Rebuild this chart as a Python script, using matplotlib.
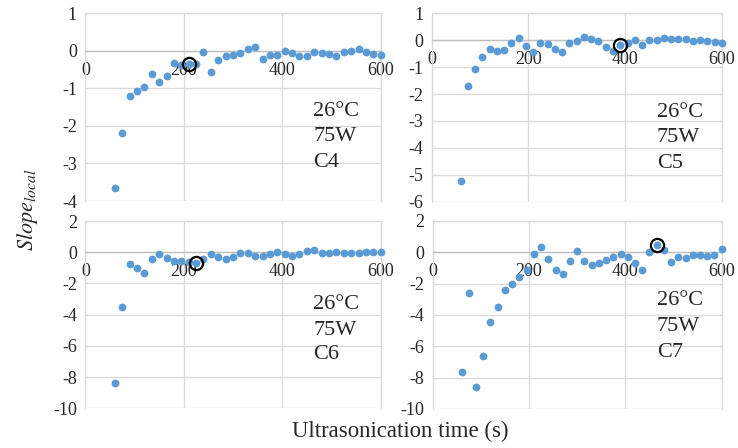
import numpy as np
from matplotlib import pyplot as plt

plt.rcParams['font.family'] = ['Liberation Serif', 'DejaVu Serif']
plt.rcParams['mathtext.fontset'] = 'stix'

# ultrasonication time, s (one point every 15 s)
time = list(range(60, 601, 15))

slope_c4 = [-3.66, -2.19, -1.21, -1.07, -0.96, -0.62, -0.82, -0.67, -0.33, -0.38,
            -0.35, -0.35, -0.04, -0.57, -0.25, -0.14, -0.10, -0.06, 0.04, 0.11,
            -0.22, -0.11, -0.10, 0.0, -0.05, -0.15, -0.15, -0.04, -0.07, -0.08,
            -0.15, -0.04, 0.0, 0.05, -0.02, -0.09, -0.10]
slope_c5 = [-5.23, -1.70, -1.07, -0.64, -0.33, -0.40, -0.38, -0.09, 0.09, -0.22,
            -0.45, -0.09, -0.14, -0.33, -0.45, -0.12, -0.02, 0.11, 0.06, -0.04,
            -0.25, -0.40, -0.17, -0.09, 0.02, -0.17, 0.0, -0.01, 0.09, 0.04,
            0.06, 0.04, -0.04, 0.02, -0.02, -0.07, -0.09]
slope_c6 = [-8.36, -3.49, -0.77, -0.98, -1.30, -0.43, -0.09, -0.38, -0.55, -0.55,
            -0.60, -0.70, -0.43, -0.11, -0.32, -0.45, -0.32, -0.04, -0.04, -0.21,
            -0.21, -0.11, 0.02, -0.09, -0.26, -0.11, 0.09, 0.13, -0.04, -0.04,
            0.0, -0.06, -0.04, -0.06, 0.0, 0.0, 0.0]
slope_c7 = [-7.65, -2.61, -8.58, -6.59, -4.47, -3.52, -2.39, -2.01, -1.59, -1.10,
            -0.11, 0.36, -0.40, -1.14, -1.36, -0.53, 0.08, -0.55, -0.81, -0.68,
            -0.49, -0.32, -0.08, -0.28, -0.70, -1.10, 0.0, 0.49, 0.17, -0.59,
            -0.32, -0.36, -0.17, -0.17, -0.21, -0.15, 0.21]

# circled points (time, slope)
marked = [(210, -0.35), (390, -0.17), (225, -0.70), (465, 0.49)]
samples = ['C4', 'C5', 'C6', 'C7']
temperature = '26°C'
power = '75W'
y_ranges = [(-4, 1, 1), (-6, 1, 1), (-10, 2, 2), (-10, 2, 2)]

positions = [
    [0.1156, 0.5513, 0.4003, 0.419],
    [0.585, 0.5498, 0.393, 0.4205],
    [0.1156, 0.0886, 0.4003, 0.418],
    [0.5863, 0.0871, 0.3916, 0.4196],
]
# axes-fraction x and the y of each text line
text_x = [0.771, 0.776, 0.771, 0.776]
text_y = [(0.476, 0.343, 0.204), (0.475, 0.34, 0.205),
          (0.557, 0.418, 0.285), (0.576, 0.438, 0.30)]

fig = plt.figure(figsize=(7.38, 4.48), dpi=100)
series = [slope_c4, slope_c5, slope_c6, slope_c7]
grid_col = '#d9d9d9'
txt_col = '#262626'

for i in range(4):
    ax = fig.add_axes(positions[i])
    lo, hi, step = y_ranges[i]
    ax.set_xlim(0, 600)
    ax.set_ylim(lo, hi)
    ax.set_xticks([0, 200, 400, 600])
    ax.set_yticks(np.arange(lo, hi + 0.1, step))
    ax.grid(True, color=grid_col, linewidth=0.9)
    ax.set_axisbelow(True)
    for s in ['top', 'left', 'right']:
        ax.spines[s].set_color(grid_col)
        ax.spines[s].set_linewidth(0.9)
    ax.spines['bottom'].set_position(('data', 0))
    ax.spines['bottom'].set_color('#bfbfbf')
    ax.spines['bottom'].set_linewidth(1.0)
    ax.tick_params(length=0, labelsize=13, colors=txt_col)
    ax.tick_params(axis='x', pad=8)
    ax.tick_params(axis='y', pad=6)
    ax.yaxis.set_major_formatter(plt.FuncFormatter(lambda v, p: '%d' % v))

    ax.plot(time, series[i], 'o', color='#5b9bd5', markersize=4.6, clip_on=False, zorder=3)
    mx, my = marked[i]
    ax.plot(mx, my, 'o', markerfacecolor='none', markeredgecolor='black',
            markersize=9.5, markeredgewidth=1.6, zorder=4)

    lines = [temperature, power, samples[i]]
    for line, ty in zip(lines, text_y[i]):
        ax.text(text_x[i], ty, line, transform=ax.transAxes, fontsize=16,
                color=txt_col, va='center', ha='left')

fig.text(0.037, 0.533, r'$\mathit{Slope}_{\mathit{local}}$', rotation=90,
         fontsize=16, ha='center', va='center', color=txt_col)
fig.text(0.542, 0.036, 'Ultrasonication time (s)', fontsize=16.4,
         ha='center', va='center', color=txt_col)

plt.savefig('out.png', dpi=100)
